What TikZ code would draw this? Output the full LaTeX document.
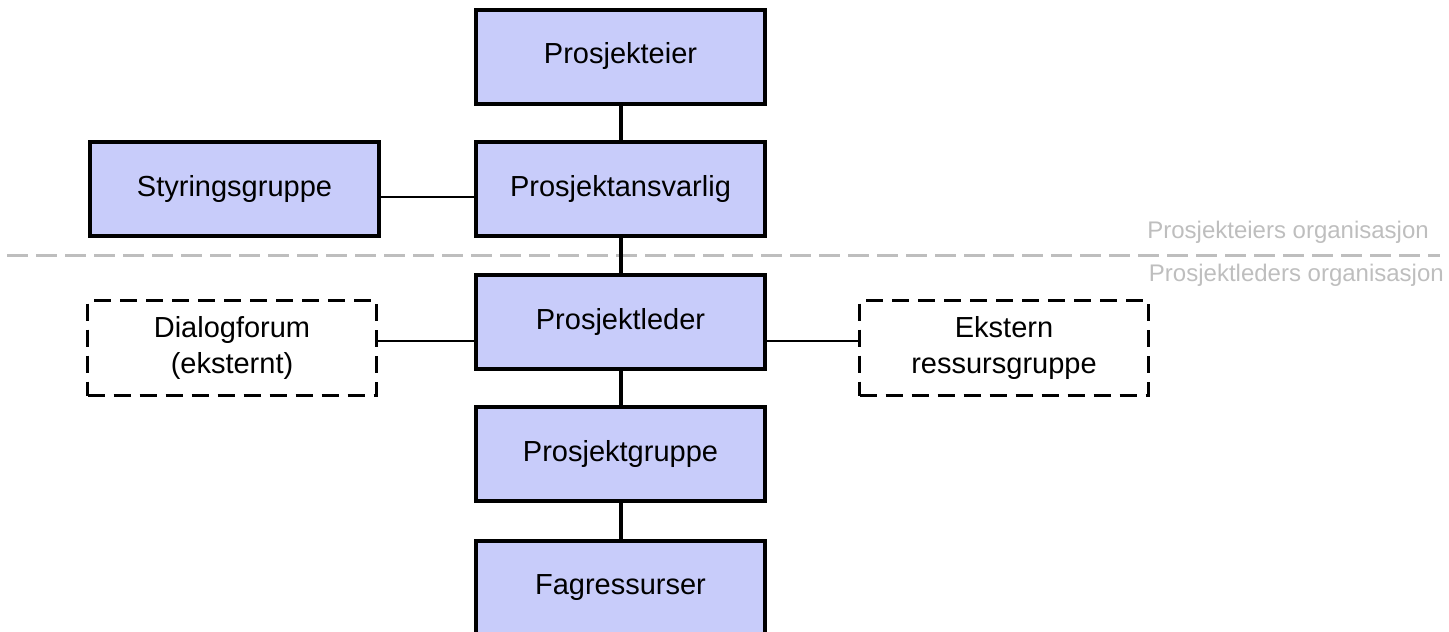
\documentclass[tikz,border=0pt]{standalone}
\usepackage{fontspec}
\setmainfont{Liberation Sans}
\definecolor{boxfill}{RGB}{200,204,250}
\definecolor{sepgray}{RGB}{190,190,190}
\begin{document}
\begin{tikzpicture}[x=1pt,y=-1pt,
  mainbox/.style={draw=black,line width=4pt,fill=boxfill,minimum width=289pt,minimum height=94pt,inner sep=0pt,align=center,font=\fontsize{29}{36}\selectfont},
  extbox/.style={draw=black,line width=3pt,dash pattern=on 17pt off 9pt,fill=white,minimum width=289pt,minimum height=95pt,inner sep=0pt,align=center,font=\fontsize{29}{36}\selectfont},
  vconn/.style={line width=4pt},
  hconn/.style={line width=2.5pt},
  seplabel/.style={text=sepgray,font=\fontsize{24}{28}\selectfont,inner sep=0pt,anchor=east}]
\useasboundingbox (0,0) rectangle (1449,632);
\clip (0,0) rectangle (1449,632);
\draw[sepgray,line width=3pt,dash pattern=on 21pt off 8pt] (7,255) -- (1440,255);
\node[mainbox] (pe) at (620.5,56.5) {Prosjekteier};
\node[mainbox] (pa) at (620.5,189) {Prosjektansvarlig};
\node[mainbox] (sg) at (234.5,189) {Styringsgruppe};
\node[mainbox] (pl) at (620.5,321.5) {Prosjektleder};
\node[extbox] (df) at (232,348) {Dialogforum\\(eksternt)};
\node[extbox] (ek) at (1004,348) {Ekstern\\ressursgruppe};
\node[mainbox] (pg) at (620.5,454) {Prosjektgruppe};
\node[mainbox] (fa) at (620.5,588) {Fagressurser};
\node[seplabel] (lo) at (1429,232) {Prosjekteiers organisasjon};
\node[seplabel] (lu) at (1444,275) {Prosjektleders organisasjon};
\coordinate (ya) at (0,197);
\coordinate (yl) at (0,341);
\draw[vconn] (pe.south) -- (pa.north);
\draw[vconn] (pa.south) -- (pl.north);
\draw[vconn] (pl.south) -- (pg.north);
\draw[vconn] (pg.south) -- (fa.north);
\draw[hconn] (sg.east |- ya) -- (pa.west |- ya);
\draw[hconn] (df.east |- yl) -- (pl.west |- yl);
\draw[hconn] (pl.east |- yl) -- (ek.west |- yl);
\end{tikzpicture}
\end{document}
